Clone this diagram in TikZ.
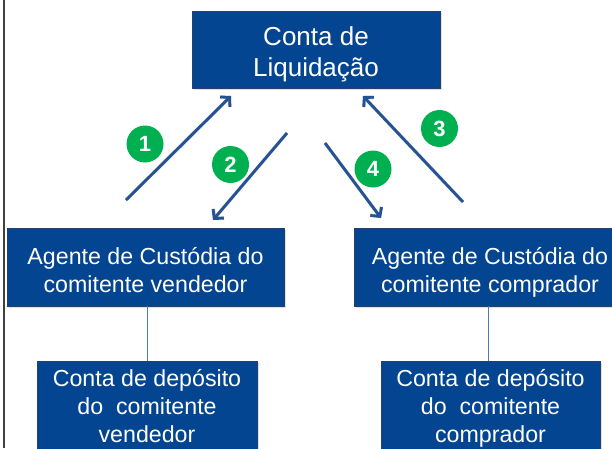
\documentclass[tikz,border=0pt]{standalone}
\usepackage{fontspec}
\setmainfont{Liberation Sans}
\usetikzlibrary{arrows.meta,shadows}
\definecolor{boxblue}{RGB}{4,69,145}
\definecolor{boxedge}{RGB}{38,64,110}
\definecolor{arrowblue}{RGB}{35,82,150}
\definecolor{numgreen}{RGB}{0,176,80}
\definecolor{linkblue}{RGB}{74,126,187}
\begin{document}
\begin{tikzpicture}[x=1pt,y=-1pt,
  box/.style={rectangle, fill=boxblue, draw=boxedge, line width=0.6pt, inner sep=0pt,
    align=center, text=white,
    drop shadow={opacity=0.25, shadow xshift=1.5pt, shadow yshift=-1.5pt}},
  bigtext/.style={font=\fontsize{26}{31}\selectfont},
  smalltext/.style={font=\fontsize{23.2}{28}\selectfont},
  num/.style={circle, fill=numgreen, text=white, minimum size=37pt, inner sep=0pt,
    font=\fontsize{22}{22}\selectfont\bfseries},
  flow/.style={draw=arrowblue, line width=2.8pt, -{Straight Barb[length=6.5pt,width=14pt]}},
  flowshadow/.style={draw=black, opacity=0.22, line width=3.4pt, -{Straight Barb[length=6.5pt,width=14pt]}},
  link/.style={draw=linkblue, line width=1pt}]
\useasboundingbox (0,0) rectangle (612,448);
\clip (0,0) rectangle (612,448);
\fill[white] (0,0) rectangle (612,448);

% boxes
\node[box, bigtext, minimum width=248pt, minimum height=77pt, text height=58pt, text depth=5pt]
  (liq) at (316,49.5) {Conta de\\Liquidação};
\node[box, smalltext, minimum width=277pt, minimum height=78pt, text height=55pt, text depth=5pt]
  (agentL) at (145.5,267) {Agente de Custódia do\\comitente vendedor};
\node[box, smalltext, minimum width=272pt, minimum height=78pt, text height=55pt, text depth=5pt]
  (agentR) at (490,267) {Agente de Custódia do\\comitente comprador};
\node[box, smalltext, minimum width=220pt, minimum height=91pt, text height=76pt, text depth=5pt]
  (depL) at (147,406.5) {Conta de depósito\\do~ comitente\\vendedor};
\node[box, smalltext, minimum width=219pt, minimum height=91pt, text height=76pt, text depth=5pt]
  (depR) at (490.5,406.5) {Conta de depósito\\do~ comitente\\comprador};

% links
\coordinate (xR) at (488,0);
\draw[link] (agentL.south -| depL.north) -- (depL.north);
\draw[link] (agentR.south -| xR) -- (depR.north -| xR);

% arrow end points
\coordinate (a1s) at (126,200);
\coordinate (a1e) at (231,96);
\coordinate (a2s) at (287,133);
\coordinate (a2e) at (213,220);
\coordinate (a3s) at (463,202);
\coordinate (a3e) at (363,96);
\coordinate (a4s) at (325,143);
\coordinate (a4e) at (381,218);

\begin{scope}[shift={(2,2)}]
  \draw[flowshadow] (a1s) -- (a1e);
  \draw[flowshadow] (a2s) -- (a2e);
  \draw[flowshadow] (a3s) -- (a3e);
  \draw[flowshadow] (a4s) -- (a4e);
\end{scope}
\draw[flow] (a1s) -- (a1e);
\draw[flow] (a2s) -- (a2e);
\draw[flow] (a3s) -- (a3e);
\draw[flow] (a4s) -- (a4e);

% numbers
\node[num] (n1) at (145,144) {1};
\node[num] (n2) at (230.5,164.5) {2};
\node[num] (n3) at (439.5,128.5) {3};
\node[num] (n4) at (373,169) {4};

% left border
\draw[line width=1.6pt, black!75] (4,0) -- (4,448);
\end{tikzpicture}
\end{document}
